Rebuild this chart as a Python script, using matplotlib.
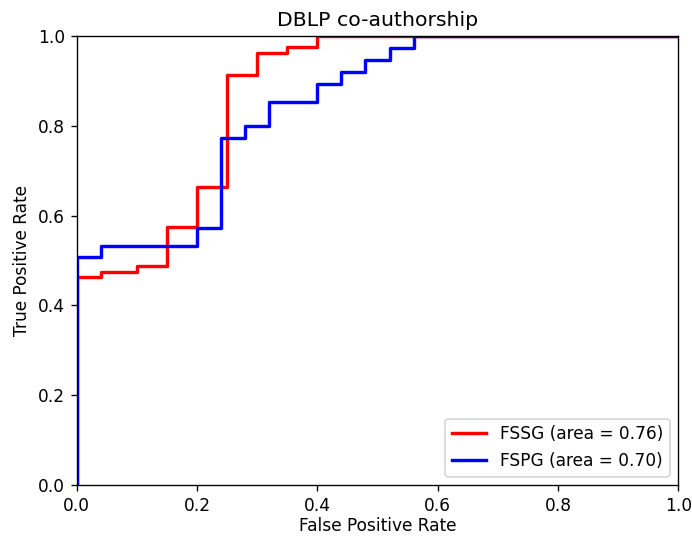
import matplotlib
matplotlib.use("Agg")
import matplotlib.pyplot as plt

# ROC points (corner points of the step curves)
fssg_fpr = [0.0, 0.0, 0.04, 0.04, 0.10, 0.10, 0.15, 0.15, 0.20, 0.20, 0.25, 0.25,
            0.30, 0.30, 0.35, 0.35, 0.40, 0.40, 1.0]
fssg_tpr = [0.0, 0.463, 0.463, 0.475, 0.475, 0.487, 0.487, 0.575, 0.575, 0.663, 0.663, 0.913,
            0.913, 0.963, 0.963, 0.975, 0.975, 1.0, 1.0]

fspg_fpr = [0.0, 0.0, 0.04, 0.04, 0.20, 0.20, 0.24, 0.24, 0.28, 0.28, 0.32, 0.32,
            0.40, 0.40, 0.44, 0.44, 0.48, 0.48, 0.52, 0.52, 0.56, 0.56, 1.0]
fspg_tpr = [0.0, 0.507, 0.507, 0.533, 0.533, 0.573, 0.573, 0.773, 0.773, 0.80, 0.80, 0.853,
            0.853, 0.893, 0.893, 0.92, 0.92, 0.947, 0.947, 0.973, 0.973, 1.0, 1.0]

fssg_auc = 0.76
fspg_auc = 0.70

# saved at a higher dpi so text and lines come out a bit bigger, like the original
fig = plt.figure(figsize=(5.6725, 4.4100), dpi=122)
ax = fig.add_axes([0.111, 0.0985, 0.869, 0.8345])
ax.plot(fssg_fpr, fssg_tpr, color='red', lw=2, label='FSSG (area = %0.2f)' % fssg_auc)
ax.plot(fspg_fpr, fspg_tpr, color='blue', lw=2, label='FSPG (area = %0.2f)' % fspg_auc)
ax.set_xlim(0.0, 1.0)
ax.set_ylim(0.0, 1.0)
ax.set_xlabel('False Positive Rate', labelpad=1)
ax.set_ylabel('True Positive Rate')
ax.set_title('DBLP co-authorship')
ax.legend(loc='lower right')
fig.savefig('out.png', dpi=122)
